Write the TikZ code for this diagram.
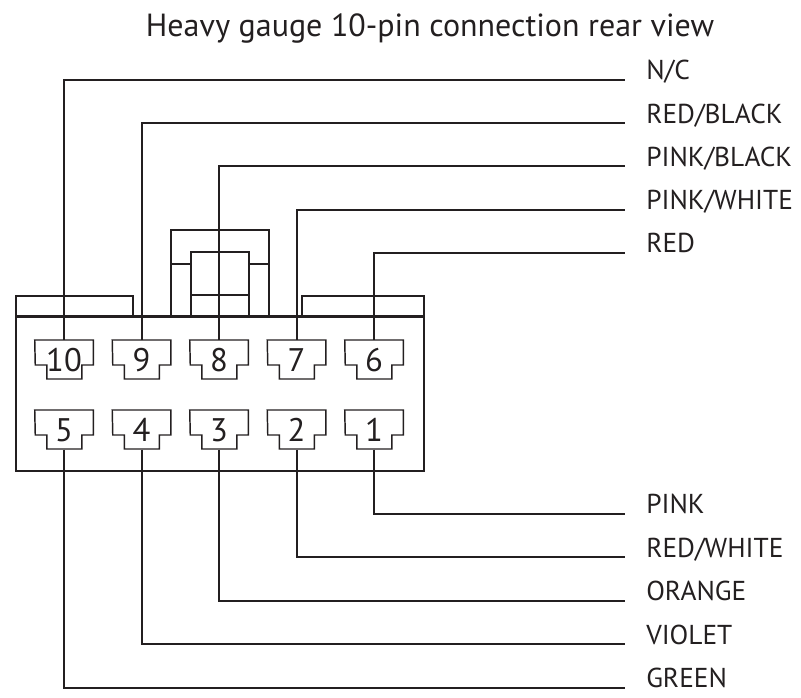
\documentclass[tikz,border=0pt]{standalone}
\usepackage{fontspec}
\setmainfont{PT Sans}
\usetikzlibrary{calc}
\definecolor{ink}{HTML}{231F20}
\begin{document}
\begin{tikzpicture}[x=0.75pt,y=-0.75pt,
	wire/.style={draw=ink,line width=1.5pt},
	body/.style={draw=ink,line width=2pt},
	pinline/.style={draw=ink,line width=1.1pt,line join=miter},
	pin/.style={inner sep=0pt,minimum width=43.5pt,minimum height=29.25pt,anchor=north,text=ink,font=\fontsize{24.5}{24.5}\selectfont},
	lbl/.style={anchor=base west,inner xsep=15.75pt,inner ysep=0pt,text=ink,font=\fontsize{20.5}{20.5}\selectfont}]
	\useasboundingbox (0,0) rectangle (801,698);
	% title
	\node[text=ink,font=\fontsize{24}{24}\selectfont] (title) at (430,29) {Heavy gauge 10-pin connection rear view};
	% housing
	\draw[body] (16,316.7) rectangle (424,471);
	\draw[body] (16,296) rectangle (133,316.7) (302,296) rectangle (424,316.7);
	\draw[body] (171,230) rectangle (269,316.7) (191,252) rectangle (249,316.7);
	\draw[body] (191,295)--(249,295) (171,264)--(191,264) (249,264)--(269,264);
	% pins
	\foreach \n/\x/\y in {10/64/340,9/141.5/340,8/219/340,7/296.5/340,6/374/340,5/64/410,4/141.5/410,3/219/410,2/296.5/410,1/374/410}{
		\node[pin] (p\n) at (\x,\y) {\n};
		\draw[pinline] (p\n.north west) -- (p\n.north east) -- ++(0,25) -- ++(-11.5,0) -- ++(0,14) -- ++(-35,0) -- ++(0,-14) -- ++(-11.5,0) -- cycle;
	}
	% wire labels
	\foreach \n/\y/\t in {10/80/{N/C},9/123.25/{RED/BLACK},8/166.5/{PINK/BLACK},7/209.75/{PINK/WHITE},6/253/{RED},1/514/{PINK},2/557.5/{RED/WHITE},3/601/{ORANGE},4/644.5/{VIOLET},5/688/{GREEN}}{
		\node[lbl] (l\n) at (625,\y) {\t};
	}
	% wires
	\foreach \n in {10,9,8,7,6}{
		\draw[wire] (p\n.north) |- (l\n.base west);
	}
	\foreach \n in {5,4,3,2,1}{
		\draw[wire] (p\n.south) |- (l\n.base west);
	}
\end{tikzpicture}
\end{document}
